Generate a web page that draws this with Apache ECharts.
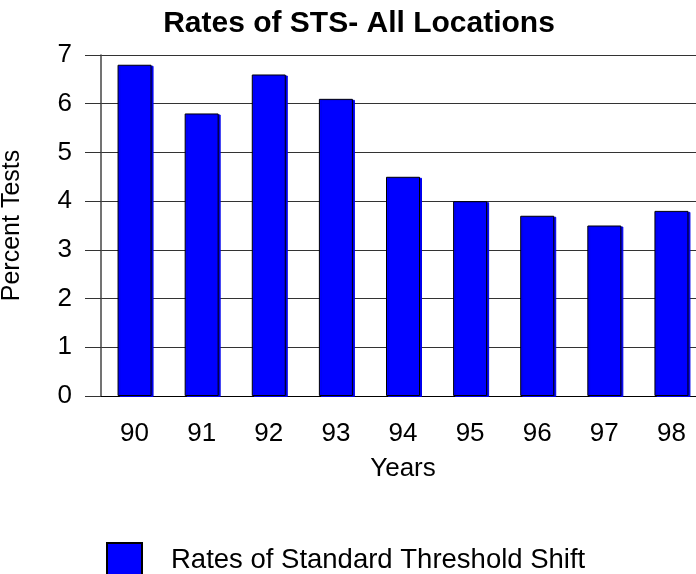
<!DOCTYPE html>
<html>
<head>
<meta charset="utf-8">
<script src="https://cdn.jsdelivr.net/npm/echarts@6/dist/echarts.min.js"></script>
<style>
  html, body { margin: 0; padding: 0; background: #fff; }
  #chart { width: 696px; height: 574px; }
</style>
</head>
<body>
<div id="chart"></div>
<script>
const years = ['90', '91', '92', '93', '94', '95', '96', '97', '98']
const stsRates = [6.8, 5.8, 6.6, 6.1, 4.5, 4.0, 3.7, 3.5, 3.8]
const yTicks = [0, 1, 2, 3, 4, 5, 6, 7]

const font = 'Liberation Sans, Arial, sans-serif'
const chart = echarts.init(document.getElementById('chart'))
chart.setOption({
  animation: false,
  title: {
    text: 'Rates of STS- All Locations',
    left: 354,
    textAlign: 'center',
    top: 4,
    textStyle: { fontFamily: font, fontSize: 30, fontWeight: 'bold', color: '#000' }
  },
  legend: {
    left: 101,
    top: 537,
    itemWidth: 35,
    itemHeight: 35,
    icon: 'rect',
    textStyle: { fontFamily: font, fontSize: 27.5, color: '#000', padding: [0, 0, 0, 24] },
    data: ['Rates of Standard Threshold Shift']
  },
  grid: { left: 101, top: 55, right: -9, bottom: 178, outerBoundsMode: 'none', containLabel: false },
  xAxis: [{
    type: 'category',
    data: years,
    name: 'Years',
    nameLocation: 'middle',
    nameGap: 60,
    nameTextStyle: { fontFamily: font, fontSize: 26, color: '#000' },
    axisLine: { lineStyle: { color: '#000', width: 1 } },
    axisTick: { alignWithLabel: true, length: 15, lineStyle: { color: '#333' } },
    axisLabel: { fontFamily: font, fontSize: 26, color: '#000', margin: 25 }
  }, {
    // small ticks at the category boundaries
    type: 'category',
    data: years,
    position: 'bottom',
    axisLine: { show: false },
    axisTick: { length: 3, lineStyle: { color: '#000', width: 2 } },
    axisLabel: { show: false }
  }],
  yAxis: {
    type: 'value',
    min: yTicks[0],
    max: yTicks[yTicks.length - 1],
    interval: 1,
    name: 'Percent Tests',
    nameLocation: 'middle',
    nameGap: 76,
    nameRotate: 90,
    nameTextStyle: { fontFamily: font, fontSize: 25, color: '#000' },
    axisLine: { show: true, lineStyle: { color: '#444', width: 1.5 } },
    axisTick: { show: true, length: 16, lineStyle: { color: '#333' } },
    axisLabel: { fontFamily: font, fontSize: 26, color: '#000', margin: 29 },
    splitLine: { lineStyle: { color: '#333', width: 1 } }
  },
  series: [{
    name: 'Rates of Standard Threshold Shift',
    type: 'bar',
    data: stsRates,
    barWidth: 34,
    itemStyle: {
      color: '#0000ff',
      borderColor: '#000',
      borderWidth: 1,
      shadowColor: '#0000ee',
      shadowOffsetX: 2,
      shadowOffsetY: 1
    }
  }]
})
</script>
</body>
</html>
